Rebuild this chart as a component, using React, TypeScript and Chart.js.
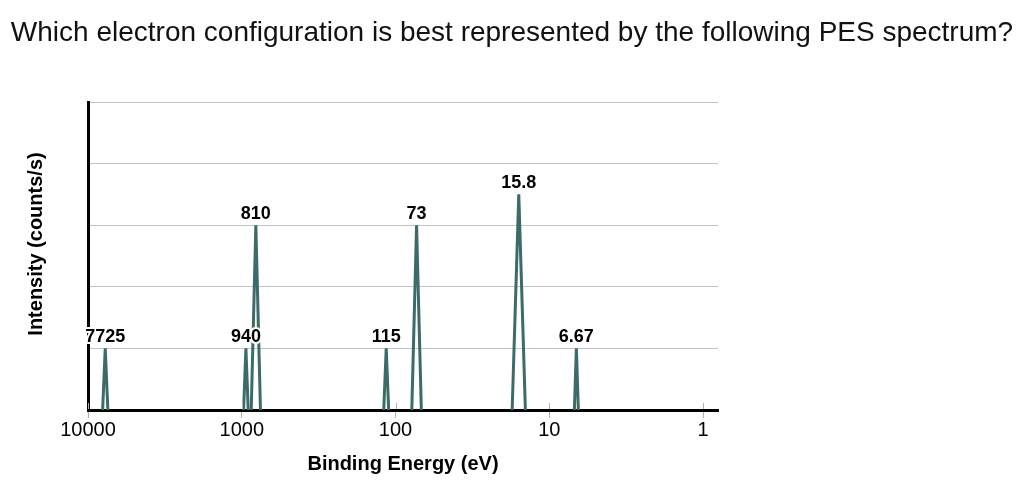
import React, { useEffect, useRef } from "react";
import { Chart, registerables } from "chart.js";

Chart.register(...registerables);

const TITLE = "Which electron configuration is best represented by the following PES spectrum?";
const X_TITLE = "Binding Energy (eV)";
const Y_TITLE = "Intensity (counts/s)";

// Peak binding energies (eV), relative heights, and half widths (in decades of the log axis)
const peakEnergies = [7725, 940, 810, 115, 73, 15.8, 6.67];
const peakHeights = [1, 1, 3, 1, 3, 3.5, 1];
const peakHalfWidths = [0.017, 0.015, 0.03, 0.016, 0.031, 0.043, 0.013];
const peakLabels = ["7725", "940", "810", "115", "73", "15.8", "6.67"];

const xTickValues = [10000, 1000, 100, 10, 1];
const X_MIN = 0.8;
const X_MAX = 10000;
const Y_MIN = 0;
const Y_MAX = 5;

const LINE_COLOR = "#3d6b68";
const FONT = "'Liberation Sans', Arial, Helvetica, sans-serif";

const peakDatasets = peakEnergies.map((e, i) => {
  const f = Math.pow(10, peakHalfWidths[i]);
  return {
    label: peakLabels[i],
    data: [
      { x: e * f, y: 0 },
      { x: e, y: peakHeights[i] },
      { x: e / f, y: 0 },
    ],
    borderColor: LINE_COLOR,
    borderWidth: 3,
    pointRadius: 0,
    fill: false,
    tension: 0,
    borderJoinStyle: "miter" as const,
  };
});

const decorPlugin = {
  id: "decor",
  afterDraw(chart: any) {
    const ctx = chart.ctx;
    const xs = chart.scales.x;
    const ys = chart.scales.y;
    const area = chart.chartArea;
    ctx.save();
    // tick marks crossing the axis (upper part)
    ctx.strokeStyle = "#b0b0b0";
    ctx.lineWidth = 1;
    xTickValues.forEach((v) => {
      const px = Math.round(xs.getPixelForValue(v)) + 0.5;
      ctx.beginPath();
      ctx.moveTo(px, area.bottom - 7);
      ctx.lineTo(px, area.bottom - 1);
      ctx.stroke();
    });
    // peak labels with white halo
    ctx.font = `bold 18px ${FONT}`;
    ctx.textAlign = "center";
    ctx.textBaseline = "alphabetic";
    ctx.lineJoin = "round";
    peakEnergies.forEach((e, i) => {
      const px = xs.getPixelForValue(e);
      const py = ys.getPixelForValue(peakHeights[i]) - 6;
      ctx.strokeStyle = "#ffffff";
      ctx.lineWidth = 4;
      ctx.strokeText(peakLabels[i], px, py);
      ctx.fillStyle = "#000000";
      ctx.fillText(peakLabels[i], px, py);
    });
    // main title
    ctx.font = `28px ${FONT}`;
    ctx.textBaseline = "middle";
    ctx.fillStyle = "#111111";
    ctx.fillText(TITLE, chart.width / 2, 33);
    // y axis title
    ctx.translate(36, (area.top + area.bottom) / 2 - 12);
    ctx.rotate(-Math.PI / 2);
    ctx.font = `bold 20px ${FONT}`;
    ctx.fillStyle = "#000000";
    ctx.fillText(Y_TITLE, 0, 0);
    ctx.restore();
  },
};

export default function App() {
  const ref = useRef<HTMLCanvasElement | null>(null);
  useEffect(() => {
    if (!ref.current) return;
    const chart = new Chart(ref.current, {
      type: "line",
      data: { datasets: peakDatasets as any },
      options: {
        animation: false,
        responsive: false,
        events: [],
        layout: { padding: { top: 102, right: 306, left: 0, bottom: 0 } },
        plugins: {
          legend: { display: false },
          tooltip: { enabled: false },
          title: { display: false },
        },
        scales: {
          x: {
            type: "logarithmic",
            reverse: true,
            min: X_MIN,
            max: X_MAX,
            afterBuildTicks: (scale: any) => {
              scale.ticks = xTickValues.map((v) => ({ value: v }));
            },
            afterFit: (scale: any) => {
              scale.height = 79;
            },
            ticks: {
              autoSkip: false,
              maxRotation: 0,
              padding: 0,
              color: "#000000",
              font: { family: FONT, size: 20 },
              callback: (v: any) => String(v),
            },
            grid: {
              display: true,
              drawOnChartArea: false,
              drawTicks: true,
              tickLength: 8,
              color: "#b0b0b0",
              tickColor: "#b0b0b0",
            },
            border: { display: true, color: "#000000", width: 3 },
            title: {
              display: true,
              text: X_TITLE,
              color: "#000000",
              font: { family: FONT, size: 20, weight: "bold" },
              padding: { top: 0, bottom: 13 },
            },
          },
          y: {
            type: "linear",
            min: Y_MIN,
            max: Y_MAX,
            afterFit: (scale: any) => {
              scale.width = 88;
            },
            ticks: { display: false, stepSize: 1 },
            grid: { color: "#c4c4c4", lineWidth: 1, drawTicks: false },
            border: { display: true, color: "#000000", width: 3 },
          },
        },
      },
      plugins: [decorPlugin],
    });
    return () => chart.destroy();
  }, []);
  return (
    <div style={{ position: "absolute", left: 0, top: 0, width: 1024, height: 489, background: "#fff" }}>
      <canvas ref={ref} width={1024} height={489} style={{ width: 1024, height: 489 }} />
    </div>
  );
}
